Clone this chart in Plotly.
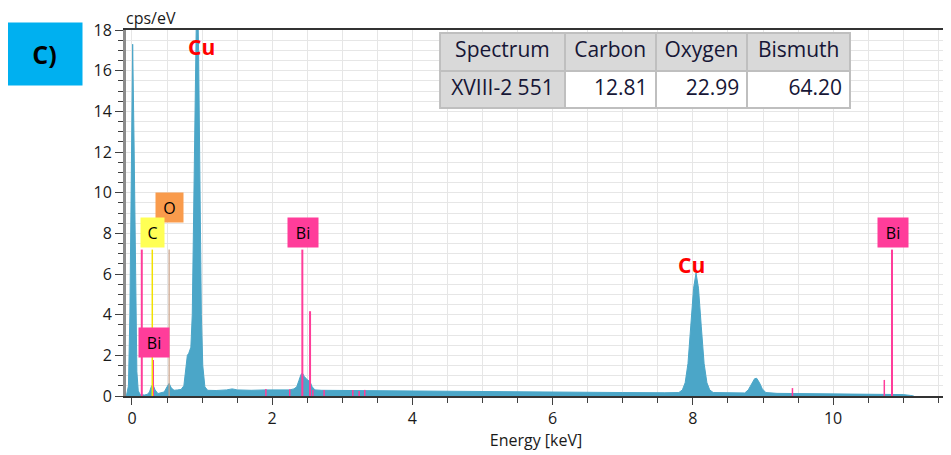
"""EDS spectrum (panel C) with element markers and composition table."""

import plotly.graph_objects as go

# spectrum
energy_kev = [-0.08, -0.05, -0.03, -0.01, 0.01, 0.03, 0.05, 0.07, 0.09, 0.12,
              0.18, 0.22, 0.25, 0.28, 0.30, 0.33, 0.37, 0.42, 0.46, 0.50,
              0.53, 0.56, 0.60, 0.65, 0.70, 0.74, 0.77, 0.79, 0.81, 0.84,
              0.86, 0.88, 0.90, 0.92, 0.935, 0.95, 0.97, 0.99, 1.01, 1.04,
              1.08, 1.20, 1.35, 1.43, 1.50, 1.70, 1.90, 2.10, 2.25, 2.31,
              2.35, 2.38, 2.41, 2.43, 2.46, 2.50, 2.54, 2.57, 2.61, 2.70,
              3.00, 4.00, 5.00, 6.00, 7.00, 7.60, 7.80, 7.85, 7.89, 7.93,
              7.97, 8.01, 8.045, 8.08, 8.12, 8.16, 8.20, 8.24, 8.29, 8.50,
              8.74, 8.79, 8.84, 8.88, 8.91, 8.95, 8.99, 9.04, 9.20, 10.00,
              10.50, 11.00, 11.10, 11.15]
counts = [0.0, 0.5, 4.0, 12.0, 17.3, 12.5, 5.0, 1.2, 0.25, 0.06,
          0.05, 0.08, 0.2, 0.5, 0.55, 0.3, 0.12, 0.15, 0.2, 0.45,
          0.62, 0.4, 0.28, 0.3, 0.32, 0.5, 1.4, 2.0, 2.1, 2.4,
          4.0, 8.0, 14.0, 19.0, 20.0, 17.0, 10.0, 4.0, 1.5, 0.45,
          0.28, 0.27, 0.3, 0.35, 0.3, 0.28, 0.3, 0.29, 0.3, 0.35,
          0.45, 0.75, 1.05, 1.13, 0.95, 0.8, 0.7, 0.45, 0.3, 0.28,
          0.27, 0.24, 0.21, 0.19, 0.17, 0.16, 0.17, 0.3, 0.65, 1.6,
          3.4, 5.3, 6.05, 5.3, 3.4, 1.6, 0.65, 0.3, 0.17, 0.15,
          0.15, 0.3, 0.6, 0.85, 0.87, 0.65, 0.35, 0.17, 0.13, 0.1,
          0.09, 0.07, 0.03, 0.0]

# element marker lines (keV, height)
bi_lines_kev = [0.14, 0.30, 2.43, 2.54, 10.84, 10.73, 9.42,
                1.91, 2.25, 2.58, 2.74, 3.15, 3.24, 3.32]
bi_lines_h = [7.2, 1.77, 7.2, 4.17, 7.2, 0.79, 0.39,
              0.35, 0.33, 0.3, 0.3, 0.3, 0.25, 0.3]
c_line_kev, c_line_h = 0.29, 7.2
o_line_kev, o_line_h = 0.53, 7.2

# composition table
table_header = ["Spectrum", "Carbon", "Oxygen", "Bismuth"]
table_row = ["XVIII-2\u00a0551", "12.81", "22.99", "64.20"]

FONT = "Open Sans"
TEXT = "#1a1a1a"
SPEC = "#4ba6c8"
PINK = "#ff3d9a"

fig = go.Figure()

fig.add_trace(go.Scatter(
    x=energy_kev, y=counts, mode="lines", fill="tozeroy",
    line=dict(color=SPEC, width=1), fillcolor=SPEC, hoverinfo="skip",
))


def stick_trace(xs, hs, color, width):
    px, py = [], []
    for e, h in zip(xs, hs):
        px += [e, e, None]
        py += [0, h, None]
    return go.Scatter(x=px, y=py, mode="lines", line=dict(color=color, width=width),
                      hoverinfo="skip")


fig.add_trace(stick_trace(bi_lines_kev[:5], bi_lines_h[:5], PINK, 2))
fig.add_trace(stick_trace(bi_lines_kev[5:], bi_lines_h[5:], PINK, 1.5))
fig.add_trace(stick_trace([c_line_kev], [c_line_h], "#f2e200", 1.5))
fig.add_trace(stick_trace([o_line_kev], [o_line_h], "#c8a088", 1.2))

fig.add_trace(go.Table(
    domain=dict(x=[0.383, 0.884], y=[0.7814, 0.9918]),
    columnwidth=[125, 91, 92, 103],
    header=dict(values=table_header, fill_color="#d9d9d9", height=38,
                line=dict(color="#bfbfbf", width=2), align="center",
                font=dict(family=FONT, size=21, color="#161636")),
    cells=dict(values=[[v] for v in table_row],
               fill_color=[["#d9d9d9"], ["white"], ["white"], ["white"]],
               height=37, line=dict(color="#bfbfbf", width=2),
               align=["center", "right", "right", "right"],
               font=dict(family=FONT, size=21, color="#161636")),
))

# element boxes
boxes = [
    ("O", 0.535, 9.26, "#f99b4c", 27),
    ("C", 0.29, 8.03, "#ffff55", 23),
    ("Bi", 0.31, 2.63, PINK, 30),
    ("Bi", 2.44, 8.06, PINK, 30),
    ("Bi", 10.86, 8.06, PINK, 30),
]
for text, bx, by, col, w in boxes:
    fig.add_annotation(x=bx, y=by, text=text, showarrow=False, bgcolor=col,
                       width=w, height=29, borderpad=0,
                       font=dict(family=FONT, size=16, color="black"))

for bx, by in [(0.985, 17.14), (7.98, 6.45)]:
    fig.add_annotation(x=bx, y=by, text="<b>Cu</b>", showarrow=False,
                       font=dict(family=FONT, size=21, color="#ff0000"))

fig.add_annotation(xref="paper", yref="paper", x=0, y=1, xanchor="left",
                   yanchor="bottom", text="cps/eV", showarrow=False, xshift=-2,
                   yshift=-1, font=dict(family=FONT, size=16, color=TEXT))
fig.add_annotation(xref="paper", yref="paper", x=-0.0994, y=0.934, text="<b>C)</b>",
                   xanchor="center", yanchor="middle",
                   showarrow=False, bgcolor="#00b0f0", width=75, height=62,
                   borderpad=0, font=dict(family=FONT, size=25, color="black"))

# right frame edge
fig.add_shape(type="line", xref="paper", yref="paper", x0=1, x1=1, y0=0, y1=1,
              line=dict(color="#333333", width=1.5))

grid = "#e6e6e6"
# page body adds an 8px offset, so the figure is pulled in by that much
fig.update_layout(
    width=940, height=447, showlegend=False,
    margin=dict(l=118, r=2, t=22, b=59),
    plot_bgcolor="white", paper_bgcolor="white",
    font=dict(family=FONT, color=TEXT),
    xaxis=dict(range=[-0.085, 11.61], tick0=0, dtick=2, showgrid=True, gridcolor=grid,
               zeroline=False, showline=True, linecolor="#333333", linewidth=2,
               mirror=True, ticks="outside", ticklen=7, tickcolor="#404040",
               tickfont=dict(size=16, color=TEXT),
               minor=dict(dtick=0.5, tick0=0, ticks="outside", ticklen=5,
                          tickcolor="#404040", showgrid=True, gridcolor=grid),
               title=dict(text="Energy [keV]", font=dict(size=16, color=TEXT), standoff=6)),
    yaxis=dict(range=[0, 18], tick0=0, dtick=2, showgrid=True, gridcolor=grid,
               zeroline=False, showline=True, linecolor="#8c8c8c", linewidth=3,
               ticks="outside", ticklen=8, tickcolor="#404040",
               tickfont=dict(size=16, color=TEXT),
               minor=dict(dtick=0.5, tick0=0, ticks="outside", ticklen=5,
                          tickcolor="#404040", showgrid=True, gridcolor=grid)),
)

fig.write_html("out.html")
